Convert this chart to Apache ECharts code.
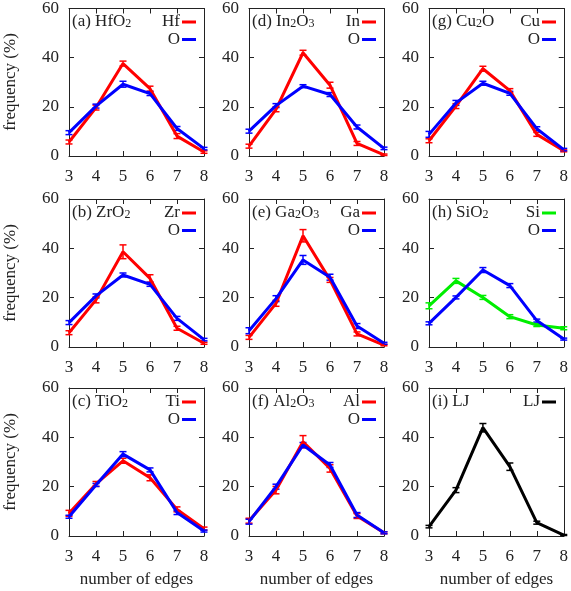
<!DOCTYPE html>
<html><head><meta charset="utf-8">
<script src="https://cdn.jsdelivr.net/npm/echarts@6/dist/echarts.min.js"></script>
<style>html,body{margin:0;padding:0;background:#fff}#c{width:571px;height:591px}</style>
</head><body><div id="c"></div>
<script>
// ---- data ----
const edges = [3, 4, 5, 6, 7, 8];
const yTicks = [0, 20, 40, 60];

const hfo2_Hf = [5.7, 19.7, 37.6, 27.4, 8.1, 1.6];
const hfo2_Hf_err = [0.8, 1.0, 1.0, 1.0, 1.0, 0.5];
const hfo2_O = [9.5, 20.3, 29.2, 25.4, 11.2, 3.0];
const hfo2_O_err = [0.8, 0.8, 1.2, 0.8, 0.8, 0.5];

const zro2_Zr = [5.8, 19.1, 38.6, 27.8, 7.6, 1.5];
const zro2_Zr_err = [0.8, 1.2, 2.8, 1.5, 0.8, 0.4];
const zro2_O = [9.9, 20.7, 29.2, 25.4, 11.6, 3.0];
const zro2_O_err = [0.8, 0.8, 0.8, 0.8, 0.8, 0.5];

const tio2_Ti = [9.2, 21.1, 30.5, 23.6, 10.8, 3.0];
const tio2_Ti_err = [1.2, 1.0, 1.0, 1.2, 1.0, 0.6];
const tio2_O = [7.8, 20.7, 33.2, 26.8, 9.5, 2.0];
const tio2_O_err = [0.6, 0.6, 1.0, 0.8, 0.8, 0.4];

const in2o3_In = [4.0, 19.0, 42.0, 28.8, 5.1, 0.5];
const in2o3_In_err = [0.8, 1.0, 1.0, 1.2, 0.8, 0.3];
const in2o3_O = [10.1, 20.5, 28.4, 25.0, 11.8, 3.1];
const in2o3_O_err = [0.8, 0.8, 0.6, 0.8, 0.8, 0.5];

const ga2o3_Ga = [3.9, 17.7, 45.1, 27.2, 5.3, 0.8];
const ga2o3_Ga_err = [0.8, 1.2, 2.5, 1.0, 0.8, 0.3];
const ga2o3_O = [6.6, 19.6, 35.3, 28.3, 8.5, 1.5];
const ga2o3_O_err = [1.2, 1.2, 1.8, 1.2, 1.0, 0.4];

const al2o3_Al = [6.2, 18.6, 38.2, 27.4, 8.1, 1.3];
const al2o3_Al_err = [1.0, 1.5, 2.5, 1.5, 1.0, 0.4];
const al2o3_O = [5.8, 20.0, 36.9, 28.8, 8.5, 1.3];
const al2o3_O_err = [1.0, 1.0, 1.0, 1.0, 1.0, 0.4];

const cu2o_Cu = [6.2, 20.3, 35.5, 26.6, 8.8, 2.1];
const cu2o_Cu_err = [0.8, 1.0, 1.0, 0.8, 0.8, 0.4];
const cu2o_O = [8.8, 21.6, 29.6, 25.5, 11.1, 2.6];
const cu2o_O_err = [1.2, 1.0, 0.8, 0.8, 0.8, 0.5];

const sio2_Si = [16.7, 26.8, 20.1, 12.3, 8.9, 7.6];
const sio2_Si_err = [1.2, 1.0, 0.8, 0.8, 0.6, 0.6];
const sio2_O = [9.6, 20.1, 31.2, 24.9, 10.7, 3.2];
const sio2_O_err = [0.6, 0.6, 1.0, 0.8, 0.6, 0.4];

const lj_LJ = [3.8, 18.6, 43.9, 28.1, 5.4, 0.4];
const lj_LJ_err = [0.5, 1.0, 1.7, 1.5, 0.6, 0.2];

const RED = '#ff0000', BLUE = '#0000ff', GREEN = '#00ee00', BLACK = '#000000';

const panels = [
  {title: '(a) HfO{s|2}', col: 0, row: 0, series: [['Hf', RED, hfo2_Hf, hfo2_Hf_err], ['O', BLUE, hfo2_O, hfo2_O_err]]},
  {title: '(b) ZrO{s|2}', col: 0, row: 1, series: [['Zr', RED, zro2_Zr, zro2_Zr_err], ['O', BLUE, zro2_O, zro2_O_err]]},
  {title: '(c) TiO{s|2}', col: 0, row: 2, series: [['Ti', RED, tio2_Ti, tio2_Ti_err], ['O', BLUE, tio2_O, tio2_O_err]]},
  {title: '(d) In{s|2}O{s|3}', col: 1, row: 0, series: [['In', RED, in2o3_In, in2o3_In_err], ['O', BLUE, in2o3_O, in2o3_O_err]]},
  {title: '(e) Ga{s|2}O{s|3}', col: 1, row: 1, series: [['Ga', RED, ga2o3_Ga, ga2o3_Ga_err], ['O', BLUE, ga2o3_O, ga2o3_O_err]]},
  {title: '(f) Al{s|2}O{s|3}', col: 1, row: 2, series: [['Al', RED, al2o3_Al, al2o3_Al_err], ['O', BLUE, al2o3_O, al2o3_O_err]]},
  {title: '(g) Cu{s|2}O', col: 2, row: 0, series: [['Cu', RED, cu2o_Cu, cu2o_Cu_err], ['O', BLUE, cu2o_O, cu2o_O_err]]},
  {title: '(h) SiO{s|2}', col: 2, row: 1, series: [['Si', GREEN, sio2_Si, sio2_Si_err], ['O', BLUE, sio2_O, sio2_O_err]]},
  {title: '(i) LJ', col: 2, row: 2, series: [['LJ', BLACK, lj_LJ, lj_LJ_err]]}
];

// ---- layout ----
const FONT = 'Liberation Serif';
const lefts = [69, 249, 429], tops = [8, 199, 388], W = 135, H = 148;
const AX = '#222';

const grid = [], xAxis = [], yAxis = [], series = [], title = [], graphic = [];
panels.forEach((p, gi) => {
  const L = lefts[p.col], T = tops[p.row];
  grid.push({left: L, top: T, width: W, height: H, containLabel: false});
  const common = {min: edges[0], max: edges[edges.length - 1], interval: 1, type: 'value', gridIndex: gi,
    axisLine: {show: true, onZero: false, lineStyle: {color: AX, width: 1}},
    axisTick: {show: true, inside: true, length: 5, lineStyle: {color: AX}},
    splitLine: {show: false}};
  xAxis.push(Object.assign({}, common, {position: 'bottom',
    axisLabel: {show: true, margin: 12, fontFamily: FONT, fontSize: 17, color: '#222'}}));
  xAxis.push(Object.assign({}, common, {position: 'top', axisLabel: {show: false}}));
  const ycommon = {min: yTicks[0], max: yTicks[yTicks.length - 1], interval: yTicks[1] - yTicks[0], type: 'value', gridIndex: gi,
    axisLine: {show: true, onZero: false, lineStyle: {color: AX, width: 1}},
    axisTick: {show: true, inside: true, length: 5, lineStyle: {color: AX}},
    splitLine: {show: false}};
  yAxis.push(Object.assign({}, ycommon, {position: 'left',
    axisLabel: {show: true, margin: 10, fontFamily: FONT, fontSize: 17, color: '#222'}}));
  yAxis.push(Object.assign({}, ycommon, {position: 'right', axisLabel: {show: false}}));
  const xi = gi * 2, yi = gi * 2;
  p.series.forEach(([name, color, vals, errs]) => {
    series.push({
      type: 'custom', xAxisIndex: xi, yAxisIndex: yi, clip: false, silent: true,
      data: edges.map((e, i) => [e, vals[i] - errs[i], vals[i] + errs[i]]),
      renderItem: (params, api) => {
        const x = api.value(0);
        const a = api.coord([x, api.value(1)]), b = api.coord([x, api.value(2)]);
        const cw = 3.5;
        const st = {stroke: color, lineWidth: 1.5};
        return {type: 'group', children: [
          {type: 'line', shape: {x1: a[0], y1: a[1], x2: b[0], y2: b[1]}, style: st},
          {type: 'line', shape: {x1: a[0] - cw, y1: a[1], x2: a[0] + cw, y2: a[1]}, style: st},
          {type: 'line', shape: {x1: b[0] - cw, y1: b[1], x2: b[0] + cw, y2: b[1]}, style: st}
        ]};
      }
    });
    series.push({
      type: 'line', name: name, xAxisIndex: xi, yAxisIndex: yi, showSymbol: false, symbol: 'none',
      lineStyle: {color: color, width: 3}, itemStyle: {color: color}, animation: false,
      data: edges.map((e, i) => [e, vals[i]])
    });
  });
  title.push({text: p.title, left: L + 3, top: T + 5, padding: 0,
    textStyle: {fontFamily: FONT, fontSize: 17, fontWeight: 'normal', color: '#222',
      rich: {s: {fontFamily: FONT, fontSize: 12, color: '#222', padding: [5, 0, 0, 0]}}}});
  p.series.forEach(([name, color], k) => {
    const cy = T + 14 + k * 17.5;
    graphic.push({type: 'text', x: L + 111, y: cy,
      style: {text: name, fontFamily: FONT, fontSize: 17, fill: '#222', align: 'right', verticalAlign: 'middle'}});
    graphic.push({type: 'line', shape: {x1: L + 113, y1: cy, x2: L + 127, y2: cy},
      style: {stroke: color, lineWidth: 3}});
  });
});

// axis names
for (let r = 0; r < 3; r++) {
  graphic.push({type: 'text', x: 11, y: tops[r] + H / 2, rotation: Math.PI / 2,
    style: {text: 'frequency (%)', fontFamily: FONT, fontSize: 17, fill: '#222', align: 'center', verticalAlign: 'middle'}});
}
for (let c = 0; c < 3; c++) {
  graphic.push({type: 'text', x: lefts[c] + W / 2, y: 580,
    style: {text: 'number of edges', fontFamily: FONT, fontSize: 17, fill: '#222', align: 'center', verticalAlign: 'middle'}});
}

const chart = echarts.init(document.getElementById('c'), null, {renderer: 'canvas'});
chart.setOption({animation: false, backgroundColor: '#fff', grid, xAxis, yAxis, series, title, graphic});
</script></body></html>
